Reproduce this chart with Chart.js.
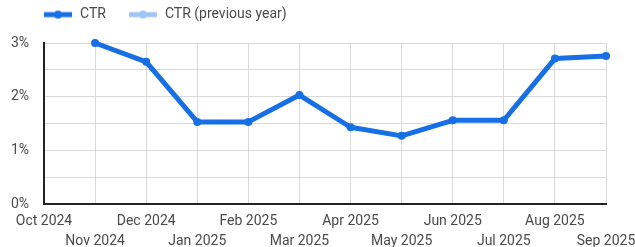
<!DOCTYPE html>
<html><head><meta charset="utf-8">
<script src="https://cdn.jsdelivr.net/npm/chart.js@4"></script>
<style>html,body{margin:0;padding:0;background:#fff}canvas{display:block}</style>
</head><body>
<canvas id="c" width="635" height="247"></canvas>
<script>
const categories = ['Oct 2024','Nov 2024','Dec 2024','Jan 2025','Feb 2025','Mar 2025','Apr 2025','May 2025','Jun 2025','Jul 2025','Aug 2025','Sep 2025'];
const ctr = [null, 3.0, 2.65, 1.53, 1.53, 2.03, 1.43, 1.27, 1.56, 1.56, 2.71, 2.76];
const ctrPrev = [null, null, null, null, null, null, null, null, null, null, null, null];
const yTicks = [0, 1, 2, 3];

const BLUE = '#166fe5';
const LIGHT = '#9fc5f8';
function legendIcon(color){
  const c = document.createElement('canvas');
  c.width = 30; c.height = 10;
  const g = c.getContext('2d');
  g.strokeStyle = color; g.lineWidth = 5; g.lineCap = 'butt';
  g.beginPath(); g.moveTo(1,5); g.lineTo(29,5); g.stroke();
  g.fillStyle = color; g.beginPath(); g.arc(15,5,4,0,Math.PI*2); g.fill();
  return c;
}
const icons = [legendIcon(BLUE), legendIcon(LIGHT)];
const FONT = {family: 'Roboto', size: 14};
const TXT = '#4a4a4a';
const LEG_PAD = 22;

const layoutFix = {
  id: 'layoutFix',
  beforeLayout(chart){
    const lg = chart.legend;
    if (lg && !lg._patched){
      lg._patched = true;
      const fit = lg.fit;
      lg.fit = function(){ fit.call(this); this.height = 43; };
    }
  },
  afterLayout(chart){
    const lg = chart.legend;
    const dx = (chart.chartArea.left - 1) - LEG_PAD - lg.left;
    lg.left += dx; lg.right += dx;
    lg.top = 16 - LEG_PAD - 8.4;
  }
};

new Chart(document.getElementById('c'), {
  type: 'line',
  data: {
    labels: categories,
    datasets: [
      {label: 'CTR', data: ctr, borderColor: BLUE, backgroundColor: BLUE, borderWidth: 5, borderCapStyle: 'round', borderJoinStyle: 'round', pointRadius: 4, pointBackgroundColor: BLUE, pointBorderWidth: 0, tension: 0, clip: false},
      {label: 'CTR (previous year)', data: ctrPrev, borderColor: LIGHT, backgroundColor: LIGHT, borderWidth: 5, pointRadius: 4, tension: 0}
    ]
  },
  plugins: [layoutFix],
  options: {
    responsive: false,
    animation: false,
    layout: {padding: {left: 0, right: 0, top: 0, bottom: 0}},
    plugins: {
      tooltip: {enabled: false},
      legend: {
        align: 'start',
        labels: {
          usePointStyle: true, pointStyleWidth: 30, font: FONT, color: TXT, padding: LEG_PAD, boxHeight: 10,
          generateLabels(chart){
            const items = Chart.defaults.plugins.legend.labels.generateLabels(chart);
            items.forEach((it, i) => { it.pointStyle = icons[i]; });
            return items;
          }
        }
      }
    },
    scales: {
      x: {
        offset: false,
        afterFit(s){ s.height = 43; s.paddingRight = 29; },
        grid: {color: '#d9d9d9', lineWidth: 1, drawTicks: false},
        border: {color: '#222', width: 2},
        ticks: {
          autoSkip: false, maxRotation: 0, font: {family: 'Roboto', size: 14, lineHeight: 1.43}, color: TXT, padding: 7,
          callback: function(v, i){ const l = this.getLabelForValue(v); return i % 2 ? ['', l] : l; }
        }
      },
      y: {
        min: 0, max: 3,
        afterFit(s){ s.width = 44; },
        grid: {color: '#d9d9d9', lineWidth: 1, drawTicks: false},
        border: {color: '#222', width: 2},
        ticks: {
          stepSize: 0.5, font: FONT, color: TXT, padding: 15,
          callback: v => yTicks.includes(v) ? v + '%' : ''
        }
      }
    }
  }
});
</script>
</body></html>
